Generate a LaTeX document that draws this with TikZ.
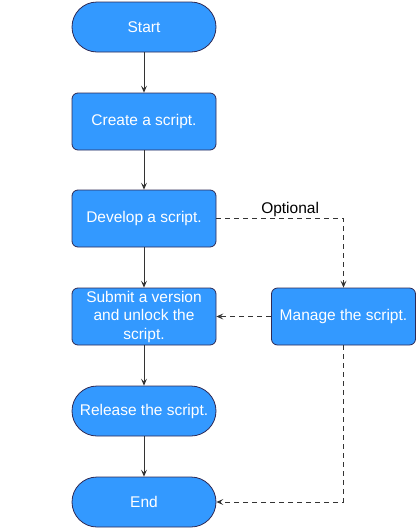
\documentclass[tikz,border=0pt]{standalone}
\usepackage{fontspec}
\setmainfont{Liberation Sans}
\usetikzlibrary{arrows.meta}
\definecolor{boxblue}{HTML}{3399FF}
\definecolor{boxline}{HTML}{2E2A55}
\definecolor{linkgray}{HTML}{333333}
\tikzset{every path/.style={line width=.8pt}}
\tikzset{
  stepbox/.style={draw=boxline, fill=boxblue, rounded corners=6pt, minimum width=144pt, minimum height=57pt,
    text=white, align=center, inner sep=2pt, font=\fontsize{15.5}{18.5}\selectfont},
  endbox/.style={stepbox, rounded corners=25pt, minimum height=50pt},
  link/.style={draw=linkgray, -{Stealth[length=7pt,width=6pt,inset=3pt]}},
  optlink/.style={link, dash pattern=on 5pt off 4pt}
}

\begin{document}
\begin{tikzpicture}[x=1pt,y=-1pt]
\useasboundingbox (0,0) rectangle (417,528);

\node[endbox] (start) at (144,27) {Start};
\node[stepbox] (create) at (144,121.5) {Create a script.};
\node[stepbox] (develop) at (144,218.5) {Develop a script.};
\node[stepbox] (submit) at (144,316.5) {Submit a version\\and unlock the\\script.};
\node[stepbox] (manage) at (343.5,316.5) {Manage the script.};
\node[endbox] (release) at (144,411) {Release the script.};
\node[endbox] (finish) at (144,502) {End};

\draw[link] (start) -- (create);
\draw[link] (create) -- (develop);
\draw[link] (develop) -- (submit);
\draw[link] (submit) -- (release);
\draw[link] (release) -- (finish);
\draw[optlink] (develop.east) -| (manage.north) node[pos=.29, above=-2pt, text=black, font=\fontsize{15.5}{18}\selectfont] (opt) {Optional};
\draw[optlink] (manage) -- (submit);
\draw[optlink] (manage.south) |- (finish.east);
\end{tikzpicture}
\end{document}
